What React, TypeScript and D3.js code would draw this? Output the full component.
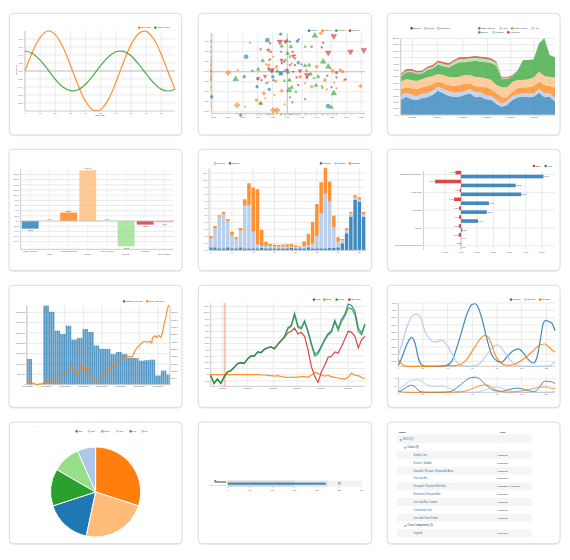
import React from 'react';
import * as d3 from 'd3';

const FONT = "'Liberation Sans', Arial, Helvetica, sans-serif";
const GRID = '#e6e6e6';
const AXIS = '#cccccc';
const TICKC = '#555';
const TF = 6.5;
const LW = 3.6;

// ---------- 1. Simple line ----------
const simpleX = [0, 5, 10, 15, 20, 25, 30, 35, 40, 45, 50, 55, 60, 65, 70, 75, 80, 85, 90, 95, 99];
const sineWave = [0, 0.48, 0.84, 1.0, 0.91, 0.6, 0.14, -0.35, -0.76, -0.98, -0.96, -0.71, -0.28, 0.22, 0.66, 0.94, 0.99, 0.8, 0.41, -0.08, -0.46];
const cosineWave = [0.5, 0.44, 0.27, 0.04, -0.21, -0.4, -0.49, -0.47, -0.33, -0.11, 0.14, 0.35, 0.48, 0.49, 0.38, 0.17, -0.07, -0.3, -0.46, -0.5, -0.45];
const simpleYTicks = [-0.8, -0.6, -0.4, -0.2, 0, 0.2, 0.4, 0.6, 0.8];
const simpleXTicks = [0, 10, 20, 30, 40, 50, 60, 70, 80, 90];

// ---------- 2. Scatter ----------
const scatterGroupNames = ['Group 0', 'Group 1', 'Group 2', 'Group 3'];
const scatterColors = ['#1f77b4', '#ff7f0e', '#2ca02c', '#d62728'];
const group0Pts: [number, number, number, string][] = [
  [-0.67, 1.58, 3, 'c'], [-0.22, 1.88, 2, 'c'], [-1.39, 0.75, 3, 'c'], [-1.18, 0.05, 1, 'c'], [-1.45, -0.25, 2, 'c'],
  [-1.02, -0.75, 2, 'c'], [-0.61, -0.88, 2, 'c'], [-0.49, -0.25, 2, 's'], [-0.21, 1.0, 1, 'c'], [-0.51, 0.03, 1, 'c'],
  [0.34, 1.53, 2, 'c'], [0.39, 1.62, 1, 'c'], [0.37, 0.45, 2, 'c'], [0.48, 0.37, 1, 'c'], [1.66, -0.05, 2, 'c'],
  [1.38, -1.72, 3, 'c'], [0.6, -1.37, 1, 'c'], [-1.57, -2.17, 2, 'c'], [-2.55, -1.25, 2, 'c'], [-0.1, 0.02, 1, 'c'],
  [0.17, -1.53, 1, 'c'], [0.09, -1.28, 1, 'c'], [-0.7, -0.57, 1, 'c'], [-1.01, -0.37, 1, 'c'], [-0.22, -0.08, 3, 's'],
  [-0.47, -0.42, 1, 'c'],
];
const group1Pts: [number, number, number, string][] = [
  [-1.26, 1.45, 1, 'c'], [-1.99, -0.05, 3, 'x'], [-1.67, 0.08, 1, 'c'], [-1.69, -1.67, 3, 'x'], [-1.42, -1.75, 1, 'c'],
  [-1.04, -1.42, 2, 'c'], [-0.91, -1.58, 2, 'x'], [-0.74, -1.33, 1, 'c'], [-0.79, -1.08, 2, 'x'], [-0.65, -0.53, 1, 'c'],
  [-0.39, -0.47, 2, 'c'], [-0.47, -1.92, 3, 'x'], [-0.34, -1.92, 3, 'x'], [-0.43, -1.17, 1, 'c'], [-0.19, -0.95, 2, 'x'],
  [-0.09, -1.63, 1, 'c'], [-0.61, 0.58, 1, 'c'], [-0.72, 0.37, 1, 'c'], [-0.63, 0.33, 2, 'c'], [-0.47, 0.75, 1, 'c'],
  [-0.36, 0.25, 2, 'c'], [0.15, 0.42, 1, 'c'], [0.26, 0.83, 1, 'c'], [0.43, -0.25, 2, 'x'], [0.6, -0.58, 1, 'c'],
  [0.65, 0.05, 2, 'c'], [0.99, 0.25, 2, 'x'], [1.27, -0.42, 2, 'x'], [1.33, -0.88, 1, 'c'], [1.16, -0.72, 1, 'c'],
  [1.53, 0.05, 2, 'x'], [1.78, 0.08, 2, 'c'], [1.92, -0.42, 1, 'c'], [2.47, -0.72, 2, 'x'], [1.13, 1.92, 2, 'x'],
  [0.09, -0.42, 1, 'c'], [1.58, -0.55, 1, 'c'], [1.66, -0.83, 1, 'c'], [1.44, 0.17, 1, 'c'], [1.87, 0.0, 2, 'c'],
  [0.82, -0.75, 2, 'c'],
];
const group2Pts: [number, number, number, string][] = [
  [0.93, 1.8, 3, 'u'], [-0.02, 1.55, 2, 'u'], [0.09, 1.5, 1, 'u'], [-0.19, 1.28, 2, 'u'], [-0.83, 0.55, 2, 'u'],
  [-0.98, 0.12, 2, 'u'], [-0.58, 0.62, 1, 'u'], [0.01, 0.92, 2, 'u'], [-0.06, 0.58, 1, 'u'], [0.09, 0.75, 1, 'u'],
  [-0.34, 0.03, 2, 'u'], [-0.22, -0.08, 1, 'u'], [0.03, -0.03, 2, 'u'], [0.07, -0.42, 2, 'u'], [-0.1, -0.45, 1, 'u'],
  [0.06, -0.92, 3, 'u'], [0.15, -0.78, 2, 'u'], [0.29, -1.0, 1, 'u'], [0.6, 0.3, 2, 'u'], [0.74, 0.33, 2, 'u'],
  [1.21, 0.5, 3, 'u'], [1.38, 0.25, 3, 'u'], [1.49, -0.78, 1, 'u'], [1.57, -1.08, 3, 'u'], [0.97, -0.68, 2, 'u'],
  [0.79, -0.12, 2, 'u'], [0.9, -0.33, 1, 'u'], [1.04, -0.25, 2, 'u'], [1.19, -0.8, 1, 'u'], [-1.74, -0.37, 3, 'u'],
  [-0.89, -1.58, 2, 'u'], [1.49, -1.78, 2, 'u'], [0.6, 1.25, 1, 'u'], [0.12, 1.25, 2, 'u'], [-0.62, 0.08, 1, 'u'],
];
const group3Pts: [number, number, number, string][] = [
  [-0.25, 1.5, 3, 'd'], [-0.06, 1.5, 2, 'd'], [-0.58, 1.42, 1, 's'], [-0.64, 1.08, 2, 'd'], [-0.55, 1.0, 1, 's'],
  [-0.9, 1.12, 1, 'd'], [-0.19, 0.58, 2, 'd'], [-0.11, 0.5, 1, 's'], [0.2, 0.78, 2, 'd'], [0.26, 0.67, 1, 'd'],
  [0.18, 1.0, 1, 's'], [1.57, 1.78, 3, 'd'], [1.38, 0.95, 3, 'd'], [2.13, 1.0, 3, 'd'], [2.58, 1.08, 3, 'd'],
  [0.82, 1.25, 1, 's'], [0.43, 0.05, 2, 'd'], [0.31, -0.28, 1, 's'], [0.67, -0.17, 3, 'd'], [0.65, -0.3, 1, 's'],
  [0.2, 0.0, 1, 'd'], [0.26, 0.33, 1, 's'], [-0.98, -0.33, 2, 'd'], [-0.87, -0.42, 1, 's'], [-0.52, 0.08, 3, 'd'],
  [-0.02, 0.08, 2, 'd'], [-0.19, 0.42, 1, 's'], [1.96, -0.38, 1, 's'], [1.66, -0.28, 1, 'd'], [1.35, -0.2, 1, 's'],
  [1.16, 1.22, 1, 's'], [-0.75, -0.23, 2, 'd'], [0.37, -0.67, 1, 's'], [-0.64, 0.17, 1, 's'], [0.09, 0.33, 1, 'd'],
  [1.21, 1.45, 1, 's'],
];
const scatterXTicks = [-2.5, -2, -1.5, -1, -0.5, 0, 0.5, 1, 1.5, 2, 2.5];
const scatterYTicks = [-2, -1.5, -1, -0.5, 0, 0.5, 1, 1.5];

// ---------- 3. Stacked area ----------
const areaKeys = ['North America', 'Africa', 'South America', 'Asia', 'Europe', 'Australia', 'Antarctica'];
const areaColors = ['#1f77b4', '#aec7e8', '#ff7f0e', '#ffbb78', '#2ca02c', '#98df8a', '#d62728'];
const northAmerica = [23.5, 28.7, 24.5, 23.5, 26.1, 27.6, 31.3, 38.1, 33.9, 29.7, 28.7, 28.7, 31.3, 33.9, 27.6, 28.7, 24.5, 23.5, 17.2, 13, 15.6, 23.5, 27.6, 28.7, 27.6, 28.7, 35, 27.6, 28.7, 20.9];
const africa = [7, 6, 8, 6, 7, 6, 7, 6, 7, 8, 6, 7, 6, 7, 8, 7, 6, 7, 6, 5, 6, 7, 5, 5, 6, 5, 6, 6, 5, 6];
const southAmerica = [9.7, 8.6, 9.2, 10.7, 10.2, 11.8, 10.2, 8.1, 8.7, 9.2, 10.7, 11.2, 11.2, 8.7, 9.8, 8.6, 12.8, 9.7, 10.7, 9.6, 6, 6, 9.1, 9.6, 9.7, 11.7, 11.2, 13.3, 11.7, 16.4];
const asia = [12, 12.5, 13.1, 13, 12.5, 13.5, 12.5, 12, 13, 13.1, 13.5, 13.1, 14.1, 13, 14.6, 14.6, 14.1, 14.6, 13, 15.7, 15.7, 15.7, 13.1, 11.5, 12.5, 13.5, 15.6, 14.1, 14.6, 15.6];
const europe = [7.5, 11.2, 12.7, 11.2, 9.1, 11.2, 11.7, 14.3, 13.8, 14.4, 19.7, 22.7, 20.1, 21.2, 24.8, 24.9, 25.3, 26.4, 30.1, 13.1, 13.1, 7.9, 15.1, 31.3, 30.3, 28.2, 44.4, 59, 33.9, 31.3];
const australia = [2, 2, 2, 2, 2, 3, 3, 4, 4, 4, 5, 5, 5, 5, 5, 5, 5, 5, 4, 1, 1, 1, 0.5, 0, 0, 0, 0, 0, 0, 0];
const antarctica = [2.5, 2.5, 2.5, 2.5, 2.5, 2.5, 2.5, 2.5, 2.5, 2.5, 2.5, 2.5, 2.5, 2.5, 2.5, 2.5, 2.5, 2.5, 2.5, 1.5, 1.5, 1.5, 0, 0, 0, 0, 0, 0, 0, 0];
const areaTickIdx = [2.2, 6.9, 11.7, 16.3, 20.7, 25.1];
const areaTickLabels = ['09/2002', '02/2004', '07/2005', '12/2006', '05/2008', '10/2009'];
const areaYTicks = [0, 10, 20, 30, 40, 50, 60, 70, 80, 90, 100, 110, 120];

// ---------- 4. Discrete bar ----------
const discreteCats = ['CDS / Options', 'Cash', 'Corporate Bonds', 'Equity', 'Index Futures', 'Options', 'Preferred', 'Not Available'];
const discreteVals = [-29.77, 0, 32.81, 196.45, 0.19, -98.08, -13.93, -5.14];
const discreteColors = ['#1f77b4', '#aec7e8', '#ff7f0e', '#ffbb78', '#2ca02c', '#98df8a', '#d62728', '#ff9896'];
const discreteYTicks = [-80, -60, -40, -20, 0, 20, 40, 60, 80, 100, 120, 140, 160, 180];

// ---------- 5. Multi bar stacked ----------
const streamNames = ['Stream0', 'Stream1', 'Stream2'];
const streamColors = ['#1f77b4', '#aec7e8', '#ff7f0e'];
const stream0 = [0.43, 0.43, 0.29, 0.29, 0.43, 0.29, 0.29, 0.43, 0.29, 0.29, 0.29, 0.29, 0.38, 0.29, 0.29, 0.29, 0.29, 0.29, 0.29, 0.38, 0.29, 0.29, 0.29, 0.43, 0.29, 0.29, 0.29, 0.29, 0.38, 0.38, 0.43, 1.0, 2.43, 4.81, 7.19, 6.95, 4.81];
const stream1 = [1.29, 2.71, 4.52, 4.9, 3.76, 1.9, 1.33, 2.38, 6.1, 6.14, 2.38, 0.57, 0.24, 0.33, 0.33, 0.24, 0.24, 0.24, 0.24, 0.14, 0.24, 0.24, 0.33, 0.33, 0.71, 1.76, 4.95, 7.81, 6.57, 2.9, 0.81, 0.48, 0.48, 0.48, 0.38, 0.33, 0.38];
const stream2 = [0.33, 0.33, 0.19, 0.29, 0.29, 0.48, 0.24, 0.38, 0.9, 3.14, 6.29, 7.86, 2.29, 0.62, 0.29, 0.29, 0.24, 0.29, 0.33, 0.38, 0.19, 0.1, 0.67, 1.57, 3.05, 4.57, 4.48, 3.67, 2.86, 1.67, 0.62, 0.14, 0.24, 0.19, 0.29, 0.29, 0.29];
const multiYTicks = [0, 1, 2, 3, 4, 5, 6, 7, 8, 9, 10, 11];
const multiXTicks = [0, 5, 10, 15, 20, 25, 30, 35];

// ---------- 6. Horizontal grouped bar ----------
const hbarCats = ['Information Technology', 'Consumer Discretionary', 'Health Care', 'Consumer Staples', 'Financials', 'Industrials', 'Energy', 'Materials', 'Telecommunication Services'];
const hbarShort = [-3.45, -16.14, -0.81, -4.32, -1.23, -1.18, -1.39, -1.43, -0.21];
const hbarLong = [50.97, 33.82, 37.31, 17.26, 15.93, 10.54, 0.82, 0, 0];
const hbarXTicks = [-10, 0, 10, 20, 30, 40, 50];

// ---------- 7. Line plus bar ----------
const quantity = [
  1240000, 1240000, 1240000, 0, 0, 0, 0, 0, 0,
  3820000, 3820000, 3820000, 3520000, 3520000, 3520000, 2610000, 2610000, 2610000,
  2450000, 2450000, 2450000, 2850000, 2850000, 2850000, 2180000, 2180000, 2180000,
  2260000, 2260000, 2260000, 2690000, 2690000, 2690000, 2550000, 2550000, 2550000,
  1890000, 1890000, 1890000, 1730000, 1730000, 1730000, 1730000, 1730000, 1730000,
  1480000, 1480000, 1480000, 1580000, 1580000, 1580000, 1480000, 1480000, 1480000,
  1290000, 1290000, 1290000, 1290000, 1290000, 1290000, 1160000, 1160000, 1160000,
  1180000, 1180000, 1180000, 1210000, 1210000, 1210000, 440000, 440000, 440000,
  680000, 680000, 680000, 480000, 480000,
];
const pricePts: [number, number][] = [
  [0, 27], [0.9, 25], [2.2, 14], [3.1, 23], [4.2, 14], [5.2, 9], [6.3, 14], [7.6, 16], [8.8, 20], [10.3, 25],
  [11.7, 32], [12.9, 41], [14.2, 36], [15.6, 43], [17.1, 48], [18.5, 64], [20.1, 77], [21.5, 93], [22.8, 111], [23.7, 141],
  [24.6, 118], [25.7, 105], [26.7, 77], [27.8, 100], [28.5, 134], [29.6, 141], [30.5, 118], [31.4, 105], [32.1, 123], [33, 100],
  [33.9, 66], [35.3, 43], [36.8, 39], [38.2, 43], [39.5, 59], [40.7, 82], [42.2, 95], [43.4, 116], [45.2, 127], [47, 150],
  [48.2, 157], [49.3, 173], [50.6, 184], [51.8, 200], [53.3, 202], [55.1, 200], [56.3, 198], [57.7, 241], [59, 264], [60.4, 282],
  [61.9, 300], [63.1, 305], [64.6, 298], [65.8, 305], [66.7, 293], [67.2, 332], [68.5, 343], [69.4, 332], [70.5, 345], [71.5, 332],
  [72.4, 361], [73.3, 418], [74.2, 468], [75.1, 525], [75.7, 548], [76, 543],
];
const lpbLeftTicks = [0, 500000, 1000000, 1500000, 2000000, 2500000, 3000000, 3500000];
const lpbRightTicks = [50, 100, 150, 200, 250, 300, 350, 400, 450, 500];
const lpbXTickIdx = [0, 10, 20, 30, 40, 50, 60, 70];
const lpbXTickLabels = ['01/01/2000', '11/01/2000', '09/01/2001', '07/01/2002', '05/01/2003', '03/01/2004', '01/01/2005', '11/01/2005'];

// ---------- 8. Cumulative line ----------
const cumNames = ['Long', 'Short', 'Gross', 'S&P 1500'];
const cumColors = ['#1f77b4', '#ff7f0e', '#2ca02c', '#d62728'];
const cumLong = [-0.8, -13.7, -6.7, -13.7, -3.5, 4.6, 6.8, 12.1, 18, 19.7, 18.6, 25.6, 30.4, 30.4, 36.9, 35.8, 41.2, 43.8, 44.9, 42.2, 49.2, 55.1, 61.6,
  75.3, 79.6, 99.5, 79, 75.3, 87.1, 71, 51.1, 33.3, 36.6, 46.8, 57.5, 66.1, 71, 87.6, 74.2, 89.2, 97.8, 114, 111.8, 102.2, 75.3, 67.2, 81.7];
const cumShort = [0, 0, 0, 0, 0, 0, 0, 0, 0, 0, 0, 0, 0, 0, 0, -0.5, -0.5, -1.1, -1.6, -2.2, -1.6, -3.2, -3.8, -4.8, -3.8, -4.3, -3.8, -3.2, -3.2, -4.3,
  -1.1, 3.8, 2.2, -0.5, -2.2, -1.1, -3.2, -4.3, -5.4, -6.5, -7, -4.3, 2.7, -1.1, -1.6, -4.3, -6.5];
const cumGross = [-1.1, -14, -7, -14, -3.8, 4.3, 6.5, 11.8, 17.7, 19.4, 18.3, 25.3, 30.1, 30.1, 36.6, 35.5, 40.9, 43.5, 44.6, 41.9, 48.9, 54.8, 61.3,
  74.2, 77.4, 95.7, 76.3, 73.7, 84.9, 68.8, 48.4, 30.1, 33.3, 44.6, 55.4, 64, 68.3, 84.9, 71, 86, 94.1, 107.5, 106.5, 96.8, 69.9, 64.5, 80.6];
const cumSP = [-1.4, -14.3, -7.3, -14.3, -4.1, 4, 6.2, 11.5, 17.4, 19.1, 18, 25, 29.8, 29.8, 36.3, 35.2, 40.6, 43.2, 44.3, 41.6, 48.6, 54.5, 60,
  67.2, 69.9, 75.3, 65.6, 68.3, 61.8, 40.3, 13.4, -2.7, -12.4, 4.3, 15.1, 28, 29.6, 36.6, 34.9, 45.7, 57.5, 69.9, 68.3, 61.8, 43, 56.5, 61.8];
const cumYTicks = [-10, 0, 10, 20, 30, 40, 50, 60, 70, 80, 90, 100, 110];
const cumXTickIdx = [3.5, 10.9, 18.7, 25.8, 32.8, 41];
const cumXTickLabels = ['01/2004', '01/2005', '01/2006', '01/2007', '01/2008', '01/2009'];
const cumIndex = 4.2;

// ---------- 9. Line with focus ----------
const focusNames = ['Stream0', 'Stream1', 'Stream2'];
const focusColors = ['#1f77b4', '#aec7e8', '#ff7f0e'];
const focusStream0: [number, number][] = [[0, 0.23], [2.7, 0.73], [6.8, 1.64], [10.8, 2.15], [13.5, 1.76], [16.2, 0.73], [18.9, 0.27], [23, 0.16], [31.1, 0.16], [39.2, 0.23], [43.2, 0.5], [47.3, 1.42], [51.4, 2.56], [55.4, 3.7], [59.5, 4.38], [62.2, 4.45], [64.9, 4.16], [67.6, 3.47], [71.6, 2.1], [75.7, 0.96], [79.7, 0.55], [83.8, 0.43], [87.8, 0.78], [93.2, 1.23], [97.3, 1.35], [101.4, 1.07], [105.4, 0.62], [109.5, 0.39], [112.2, 0.73], [114.9, 1.87], [117.6, 3.13], [119.5, 3.31], [121.6, 3.24], [124.3, 3.13], [127, 2.6]];
const focusStream1: [number, number][] = [[0, 0.91], [2.7, 1.64], [6.8, 2.79], [10.8, 3.58], [14.9, 3.74], [17.6, 3.58], [21.6, 2.56], [25.7, 1.99], [29.7, 1.83], [35.1, 1.94], [39.2, 1.64], [43.2, 1.07], [47.3, 0.46], [51.4, 0.23], [58.1, 0.16], [63.5, 0.23], [67.6, 0.5], [71.6, 0.96], [75.7, 1.37], [79.7, 1.64], [82.4, 1.53], [86.5, 1.07], [90.5, 0.62], [94.6, 0.27], [101.4, 0.16], [112.2, 0.16], [120.3, 0.16], [124.3, 0.27], [127, 0.5]];
const focusStream2: [number, number][] = [[0, 0.62], [2.7, 0.32], [6.8, 0.16], [17.6, 0.16], [33.8, 0.18], [47.3, 0.23], [54.1, 0.5], [58.1, 0.96], [62.2, 1.53], [66.2, 2.03], [70.3, 2.28], [73, 2.15], [75.7, 1.64], [78.4, 0.96], [82.4, 0.46], [87.8, 0.23], [93.2, 0.27], [98.6, 0.5], [104.1, 0.84], [109.5, 1.23], [114.9, 1.64], [118.9, 1.69], [121.6, 1.53], [124.3, 1.3], [127, 1.14]];
const focusYTicks = [0.5, 1, 1.5, 2, 2.5, 3, 3.5, 4, 4.5];
const focusXTicks = [0, 20, 40, 60, 80, 100, 120];
const focusCtxYTicks = [2, 4];

// ---------- 10. Pie ----------
const pieLabels = ['One', 'Two', 'Three', 'Four', 'Five', 'Six'];
const pieValues = [5, 2, 9, 7, 4, 3];
const pieColors = ['#1f77b4', '#aec7e8', '#ff7f0e', '#ffbb78', '#2ca02c', '#98df8a'];

// ---------- 11. Bullet ----------
const bulletRanges = [150, 225, 300];
const bulletMeasures = [220];
const bulletMarkers = [250];
const bulletTicks = [0, 50, 100, 150, 200, 250, 300];

// ---------- 12. Tree table ----------
const treeNames = ['NVD3 (2)', 'Charts (9)', 'Simple Line', 'Scatter / Bubble', 'Stacked / Stream / Expanded Area', 'Discrete Bar', 'Grouped / Stacked Multi-Bar', 'Horizontal Grouped Bar', 'Line and Bar Combo', 'Cumulative Line', 'Line with View Finder', 'Chart Components (1)', 'Legend'];
const treeTypes = ['-', '-', 'Historical', 'Snapshot', 'Historical', 'Snapshot', 'Snapshot / Historical', 'Snapshot', 'Historical', 'Historical', 'Historical', '-', 'Universal'];
const treeDepth = [0, 1, 2, 2, 2, 2, 2, 2, 2, 2, 2, 1, 2];

// ================= helpers =================
type Card = [number, number, number, number];
function Panel({ ox, oy, card, children }: { ox: number; oy: number; card: Card; children?: React.ReactNode }) {
  const [x0, y0, x1, y1] = card;
  return (
    <g transform={`translate(${ox},${oy}) scale(${1 / 3})`}>
      <rect x={x0 - 1} y={y0 + 2} width={x1 - x0 + 2} height={y1 - y0 + 2} rx={13} fill="#eeeeee" />
      <rect x={x0} y={y0} width={x1 - x0} height={y1 - y0} rx={12} fill="#fff" stroke="#dcdcdc" strokeWidth={3} />
      {children}
    </g>
  );
}

function LegendItem({ x, y, color, label, hollow }: { x: number; y: number; color: string; label: string; hollow?: boolean }) {
  return (
    <g>
      <circle cx={x} cy={y} r={3.3} fill={hollow ? '#fff' : color} stroke={hollow ? '#666' : color} strokeWidth={1.3} />
      <text x={x + 5.5} y={y + 2.3} fontSize={6.3} fill="#333">{label}</text>
    </g>
  );
}

function HGrid({ vals, y, x0, x1 }: { vals: number[]; y: (v: number) => number; x0: number; x1: number }) {
  return <g>{vals.map((v, i) => <line key={i} x1={x0} x2={x1} y1={y(v)} y2={y(v)} stroke={GRID} strokeWidth={2.5} />)}</g>;
}
function VGrid({ vals, x, y0, y1 }: { vals: number[]; x: (v: number) => number; y0: number; y1: number }) {
  return <g>{vals.map((v, i) => <line key={i} x1={x(v)} x2={x(v)} y1={y0} y2={y1} stroke={GRID} strokeWidth={2.5} />)}</g>;
}
function YLabels({ vals, y, x, fmt, anchor }: { vals: number[]; y: (v: number) => number; x: number; fmt: (v: number) => string; anchor?: string }) {
  return <g>{vals.map((v, i) => <text key={i} x={x} y={y(v) + 2.2} fontSize={TF} textAnchor={anchor || 'end'} fill={TICKC}>{fmt(v)}</text>)}</g>;
}
function XLabels({ vals, x, y, fmt }: { vals: number[]; x: (v: number) => number; y: number; fmt: (v: number, i: number) => string }) {
  return <g>{vals.map((v, i) => <text key={i} x={x(v)} y={y} fontSize={TF} textAnchor="middle" fill={TICKC}>{fmt(v, i)}</text>)}</g>;
}

// ================= charts =================
function SimpleLineChart() {
  const x = d3.scaleLinear().domain([0, 99]).range([75, 525]);
  const y = d3.scaleLinear().domain([-1, 1]).range([333, 93]);
  const line = d3.line<number>().x((_, i) => x(simpleX[i])).y(d => y(d)).curve(d3.curveCatmullRom);
  const f = d3.format('.2f');
  return (
    <Panel ox={0} oy={0} card={[28, 40, 545, 405]}>
      <HGrid vals={simpleYTicks} y={y} x0={75} x1={525} />
      <VGrid vals={simpleXTicks} x={x} y0={93} y1={333} />
      <line x1={75} x2={525} y1={y(0)} y2={y(0)} stroke="#c4c4c4" strokeWidth={3} />
      <line x1={75} x2={525} y1={333} y2={333} stroke={AXIS} strokeWidth={3} />
      <line x1={75} x2={75} y1={93} y2={333} stroke={AXIS} strokeWidth={3} />
      <YLabels vals={simpleYTicks} y={y} x={68} fmt={f} />
      <XLabels vals={simpleXTicks} x={x} y={341} fmt={v => String(v)} />
      <text transform="translate(52,210) rotate(-90)" fontSize={6.5} textAnchor="middle" fill="#333">Voltage (v)</text>
      <text x={300} y={349} fontSize={6.5} textAnchor="middle" fill="#333">Time (ms)</text>
      <path d={line(sineWave) || ''} fill="none" stroke="#ff7f0e" strokeOpacity={0.85} strokeWidth={LW} />
      <path d={line(cosineWave) || ''} fill="none" stroke="#2ca02c" strokeOpacity={0.85} strokeWidth={LW} />
      <LegendItem x={418} y={83} color="#ff7f0e" label="Sine Wave" />
      <LegendItem x={466} y={83} color="#2ca02c" label="Cosine Wave" />
    </Panel>
  );
}

const sizeArea = [0, 22, 55, 125];
function symPath(shape: string, size: number) {
  const t = shape === 'x' ? d3.symbolCross : shape === 's' ? d3.symbolSquare : shape === 'm' ? d3.symbolDiamond
    : (shape === 'u' || shape === 'd') ? d3.symbolTriangle : d3.symbolCircle;
  return d3.symbol().type(t).size(size)() || '';
}

function ScatterChart() {
  const x = d3.scaleLinear().domain([-2.55, 2.62]).range([65, 525]);
  const y = d3.scaleLinear().domain([-2.08, 1.92]).range([340, 100]);
  const groups = [group0Pts, group1Pts, group2Pts, group3Pts];
  const f = d3.format('.2f');
  return (
    <Panel ox={190} oy={0} card={[25, 40, 545, 405]}>
      <HGrid vals={scatterYTicks} y={y} x0={65} x1={525} />
      <VGrid vals={scatterXTicks} x={x} y0={100} y1={340} />
      <line x1={65} x2={525} y1={y(0)} y2={y(0)} stroke="#c4c4c4" strokeWidth={3} />
      <line x1={x(0)} x2={x(0)} y1={100} y2={340} stroke="#c4c4c4" strokeWidth={3} />
      <line x1={65} x2={525} y1={340} y2={340} stroke={AXIS} strokeWidth={3} />
      <line x1={65} x2={65} y1={100} y2={340} stroke={AXIS} strokeWidth={3} />
      <YLabels vals={scatterYTicks} y={y} x={56} fmt={f} />
      <XLabels vals={scatterXTicks} x={x} y={355} fmt={v => f(v)} />
      {groups.map((g, gi) => g.map((p, i) => (
        <g key={`r${gi}-${i}`}>
          <line x1={60} x2={65} y1={y(p[1])} y2={y(p[1])} stroke={scatterColors[gi]} strokeOpacity={0.4} strokeWidth={1.2} />
          <line x1={x(p[0])} x2={x(p[0])} y1={341} y2={346} stroke={scatterColors[gi]} strokeOpacity={0.4} strokeWidth={1.2} />
        </g>
      )))}
      {groups.map((g, gi) => g.map((p, i) => (
        <path key={`p${gi}-${i}`} d={symPath(p[3], sizeArea[p[2]])}
          transform={`translate(${x(p[0])},${y(p[1])})${p[3] === 'd' ? ' rotate(180)' : ''}`}
          fill={scatterColors[gi]} fillOpacity={0.6} stroke={scatterColors[gi]} strokeOpacity={0.8} strokeWidth={1} />
      )))}
      {scatterGroupNames.map((n, i) => <LegendItem key={n} x={357 + i * 41} y={92} color={scatterColors[i]} label={n} />)}
    </Panel>
  );
}

function StackedAreaChart() {
  const table = northAmerica.map((v, i) => ({
    i, 'North America': v, 'Africa': africa[i], 'South America': southAmerica[i], 'Asia': asia[i],
    'Europe': europe[i], 'Australia': australia[i], 'Antarctica': antarctica[i],
  }));
  const series = d3.stack<any>().keys(areaKeys)(table);
  const x = d3.scaleLinear().domain([0, northAmerica.length - 1]).range([62, 525]);
  const y = d3.scaleLinear().domain([0, 120]).range([345, 115]);
  const area = d3.area<any>().x(d => x(d.data.i)).y0(d => y(d[0])).y1(d => y(d[1]));
  const f = d3.format('.2f');
  return (
    <Panel ox={380} oy={0} card={[22, 40, 540, 405]}>
      <HGrid vals={areaYTicks} y={y} x0={62} x1={525} />
      <VGrid vals={areaTickIdx} x={x} y0={115} y1={345} />
      {series.map((s, i) => <path key={i} d={area(s) || ''} fill={areaColors[i]} fillOpacity={0.72} />)}
      <line x1={62} x2={525} y1={345} y2={345} stroke={AXIS} strokeWidth={3} />
      <line x1={62} x2={62} y1={115} y2={345} stroke={AXIS} strokeWidth={3} />
      <YLabels vals={areaYTicks} y={y} x={57} fmt={f} />
      <XLabels vals={areaTickIdx} x={x} y={354} fmt={(_, i) => areaTickLabels[i]} />
      <LegendItem x={95} y={85} color="#444" label="Stacked" />
      <LegendItem x={137} y={85} color="#444" label="Stream" hollow />
      <LegendItem x={175} y={85} color="#444" label="Expanded" hollow />
      {[0, 1, 2, 3].map(i => <LegendItem key={i} x={[298, 362, 396, 458][i]} y={85} color={areaColors[i]} label={areaKeys[i]} />)}
      {[4, 5, 6].map(i => <LegendItem key={i} x={[298, 341, 385][i - 4]} y={97} color={areaColors[i]} label={areaKeys[i]} />)}
    </Panel>
  );
}

function DiscreteBarChart() {
  const x = d3.scaleBand<string>().domain(discreteCats).range([62, 522]).paddingInner(0.12).paddingOuter(0.06);
  const y = d3.scaleLinear().domain([-109.7, 200]).range([328, 88]);
  const f = d3.format(',.2f');
  return (
    <Panel ox={0} oy={140} card={[27, 28, 546, 392]}>
      <HGrid vals={discreteYTicks} y={y} x0={62} x1={522} />
      {discreteCats.map((c, i) => (
        <line key={i} x1={x(c)! + x.bandwidth() / 2} x2={x(c)! + x.bandwidth() / 2} y1={88} y2={328} stroke={GRID} strokeWidth={2.5} strokeDasharray="6 3" />
      ))}
      <line x1={62} x2={62} y1={88} y2={328} stroke={AXIS} strokeWidth={3} />
      <line x1={62} x2={522} y1={328} y2={328} stroke={AXIS} strokeWidth={3} />
      {discreteVals.map((v, i) => (
        <rect key={i} x={x(discreteCats[i])} width={x.bandwidth()} y={y(Math.max(0, v))} height={Math.abs(y(v) - y(0))}
          fill={discreteColors[i]} fillOpacity={0.78} />
      ))}
      <line x1={62} x2={522} y1={y(0)} y2={y(0)} stroke="#c4c4c4" strokeWidth={2.5} />
      {discreteVals.map((v, i) => (
        <text key={i} x={x(discreteCats[i])! + x.bandwidth() / 2} y={v >= 0 ? y(v) - 3 : y(v) + 7.5} fontSize={6} textAnchor="middle" fill="#333">{f(v)}</text>
      ))}
      <YLabels vals={discreteYTicks} y={y} x={57} fmt={d3.format('.1f')} />
      {discreteCats.map((c, i) => (
        <text key={c} x={x(c)! + x.bandwidth() / 2} y={i % 2 === 0 ? 335 : 346} fontSize={TF} textAnchor="middle" fill={TICKC}>{c}</text>
      ))}
    </Panel>
  );
}

function MultiBarChart() {
  const idx = stream0.map((_, i) => i);
  const table = idx.map(i => ({ i, Stream0: stream0[i], Stream1: stream1[i], Stream2: stream2[i] }));
  const series = d3.stack<any>().keys(streamNames)(table);
  const x = d3.scaleBand<number>().domain(idx).range([57, 526]).paddingInner(0.18);
  const y = d3.scaleLinear().domain([0, 11.7]).range([331, 85]);
  const xc = (i: number) => x(i)! + x.bandwidth() / 2;
  return (
    <Panel ox={190} oy={140} card={[25, 28, 545, 392]}>
      <HGrid vals={multiYTicks} y={y} x0={57} x1={526} />
      <VGrid vals={multiXTicks} x={xc} y0={85} y1={331} />
      {series.map((s, si) => s.map((d: any, i: number) => (
        <rect key={`${si}-${i}`} x={x(i)} width={x.bandwidth()} y={y(d[1])} height={Math.max(0, y(d[0]) - y(d[1]))}
          fill={streamColors[si]} fillOpacity={0.85} />
      )))}
      <line x1={57} x2={526} y1={331} y2={331} stroke={AXIS} strokeWidth={3} />
      <line x1={57} x2={57} y1={85} y2={331} stroke={AXIS} strokeWidth={3} />
      <YLabels vals={multiYTicks} y={y} x={52} fmt={d3.format('.1f')} />
      <XLabels vals={multiXTicks} x={xc} y={340} fmt={v => String(v)} />
      <LegendItem x={75} y={70} color="#444" label="Grouped" hollow />
      <LegendItem x={120} y={70} color="#2c6e2c" label="Stacked" />
      {streamNames.map((n, i) => <LegendItem key={n} x={[393, 437, 480][i]} y={70} color={streamColors[i]} label={n} />)}
    </Panel>
  );
}

function HorizontalBarChart() {
  const yb = d3.scaleBand<string>().domain(hbarCats).range([92, 329]).paddingInner(0.12);
  const ys = d3.scaleBand<string>().domain(['Short', 'Long']).range([0, yb.bandwidth()]);
  const x = d3.scaleLinear().domain([-23.3, 58.1]).range([130, 525]);
  const f = d3.format(',.2f');
  const bars = [hbarShort, hbarLong];
  const cols = ['#d62728', '#1f77b4'];
  return (
    <Panel ox={380} oy={140} card={[22, 28, 540, 392]}>
      <VGrid vals={hbarXTicks} x={x} y0={92} y1={329} />
      {hbarCats.map((c, i) => i % 2 === 0 ? (
        <line key={c} x1={130} x2={525} y1={yb(c)! + yb.bandwidth() / 2} y2={yb(c)! + yb.bandwidth() / 2} stroke={GRID} strokeWidth={2.5} />
      ) : null)}
      <line x1={x(0)} x2={x(0)} y1={92} y2={329} stroke="#c4c4c4" strokeWidth={2.5} />
      <line x1={130} x2={130} y1={92} y2={329} stroke={AXIS} strokeWidth={3} />
      {bars.map((arr, si) => arr.map((v, i) => {
        const yy = yb(hbarCats[i])! + ys(si === 0 ? 'Short' : 'Long')!;
        const x0 = x(Math.min(0, v));
        const w = Math.abs(x(v) - x(0));
        return (
          <g key={`${si}-${i}`}>
            <rect x={x0} y={yy + 0.5} width={w} height={ys.bandwidth() - 1} fill={cols[si]} fillOpacity={0.85} />
            <text x={v < 0 ? x(v) - 2 : x(v) + 2} y={yy + ys.bandwidth() / 2 + 2} fontSize={5.5} textAnchor={v < 0 ? 'end' : 'start'} fill="#333">{f(v)}</text>
          </g>
        );
      }))}
      {hbarCats.map((c, i) => i % 2 === 0 ? (
        <text key={c} x={126} y={yb(c)! + yb.bandwidth() / 2 + 2} fontSize={TF} textAnchor="end" fill={TICKC}>{c}</text>
      ) : null)}
      <XLabels vals={hbarXTicks} x={x} y={338} fmt={v => f(v)} />
      <LegendItem x={462} y={78} color="#d62728" label="Short" />
      <LegendItem x={497} y={78} color="#1f77b4" label="Long" />
    </Panel>
  );
}

function LinePlusBarChart() {
  const idx = quantity.map((_, i) => i);
  const xb = d3.scaleBand<number>().domain(idx).range([80, 510]).paddingInner(0.12);
  const xl = d3.scaleLinear().domain([-0.5, quantity.length - 0.5]).range([80, 510]);
  const yl = d3.scaleLinear().domain([0, 3820000]).range([320, 83]);
  const yr = d3.scaleLinear().domain([9, 548]).range([320, 83]);
  const line = d3.line<[number, number]>().x(d => xl(d[0])).y(d => yr(d[1]));
  return (
    <Panel ox={0} oy={278} card={[27, 22, 546, 388]}>
      <HGrid vals={lpbLeftTicks} y={yl} x0={80} x1={510} />
      <VGrid vals={lpbXTickIdx} x={xl} y0={83} y1={320} />
      {quantity.map((q, i) => (
        <rect key={i} x={xb(i)} width={xb.bandwidth()} y={yl(q)} height={320 - yl(q)} fill="#1f77b4" fillOpacity={0.75} />
      ))}
      <line x1={80} x2={510} y1={320} y2={320} stroke={AXIS} strokeWidth={3} />
      <line x1={80} x2={80} y1={83} y2={320} stroke={AXIS} strokeWidth={3} />
      <line x1={510} x2={510} y1={83} y2={320} stroke={AXIS} strokeWidth={3} />
      <path d={line(pricePts) || ''} fill="none" stroke="#ff7f0e" strokeOpacity={0.85} strokeWidth={LW} />
      <YLabels vals={lpbLeftTicks} y={yl} x={76} fmt={d3.format(',')} />
      <YLabels vals={lpbRightTicks} y={yr} x={514} fmt={v => '$' + d3.format(',.1f')(v)} anchor="start" />
      <XLabels vals={lpbXTickIdx} x={xl} y={328} fmt={(_, i) => lpbXTickLabels[i]} />
      <LegendItem x={372} y={70} color="#1f77b4" label="Quantity (left axis)" />
      <LegendItem x={442} y={70} color="#ff7f0e" label="Price (right axis)" />
    </Panel>
  );
}

function CumulativeLineChart() {
  const x = d3.scaleLinear().domain([0, cumGross.length - 1]).range([62, 525]);
  const y = d3.scaleLinear().domain([-18.8, 115.6]).range([325, 75]);
  const line = d3.line<number>().x((_, i) => x(i)).y(d => y(d));
  const all = [cumLong, cumShort, cumGross, cumSP];
  return (
    <Panel ox={190} oy={278} card={[25, 22, 545, 388]}>
      <HGrid vals={cumYTicks} y={y} x0={62} x1={525} />
      <VGrid vals={cumXTickIdx} x={x} y0={75} y1={325} />
      <line x1={62} x2={525} y1={325} y2={325} stroke={AXIS} strokeWidth={3} />
      <line x1={62} x2={62} y1={75} y2={325} stroke={AXIS} strokeWidth={3} />
      <rect x={x(cumIndex) - 3} y={75} width={6} height={250} fill="#f08a6c" fillOpacity={0.5} />
      {[1, 3, 0, 2].map(si => <path key={si} d={line(all[si]) || ''} fill="none" stroke={cumColors[si]} strokeOpacity={0.85} strokeWidth={LW} />)}
      <YLabels vals={cumYTicks} y={y} x={58} fmt={v => d3.format('.0f')(v) + '%'} />
      <XLabels vals={cumXTickIdx} x={x} y={333} fmt={(_, i) => cumXTickLabels[i]} />
      {cumNames.map((n, i) => <LegendItem key={n} x={[372, 403, 440, 478][i]} y={65} color={cumColors[i]} label={n} />)}
    </Panel>
  );
}

function LineFocusChart() {
  const x = d3.scaleLinear().domain([0, 127]).range([55, 525]);
  const y = d3.scaleLinear().domain([0.16, 4.5]).range([265, 75]);
  const y2 = d3.scaleLinear().domain([0.16, 4.5]).range([343, 297]);
  const streams = [focusStream0, focusStream1, focusStream2];
  const main = d3.line<[number, number]>().x(d => x(d[0])).y(d => y(d[1])).curve(d3.curveMonotoneX);
  const ctx = d3.line<[number, number]>().x(d => x(d[0])).y(d => y2(d[1])).curve(d3.curveMonotoneX);
  const f = d3.format('.3f');
  return (
    <Panel ox={380} oy={278} card={[22, 22, 540, 388]}>
      <HGrid vals={focusYTicks} y={y} x0={55} x1={525} />
      <VGrid vals={focusXTicks} x={x} y0={75} y1={265} />
      <line x1={55} x2={525} y1={265} y2={265} stroke={AXIS} strokeWidth={3} />
      <line x1={55} x2={55} y1={75} y2={265} stroke={AXIS} strokeWidth={3} />
      {streams.map((s, i) => <path key={i} d={main(s) || ''} fill="none" stroke={focusColors[i]} strokeOpacity={0.85} strokeWidth={LW} />)}
      <YLabels vals={focusYTicks} y={y} x={50} fmt={f} />
      <XLabels vals={focusXTicks} x={x} y={273} fmt={v => String(v)} />
      <HGrid vals={focusCtxYTicks} y={y2} x0={55} x1={525} />
      <VGrid vals={focusXTicks} x={x} y0={297} y1={343} />
      <line x1={55} x2={525} y1={343} y2={343} stroke={AXIS} strokeWidth={3} />
      <line x1={55} x2={55} y1={297} y2={343} stroke={AXIS} strokeWidth={3} />
      {streams.map((s, i) => <path key={i} d={ctx(s) || ''} fill="none" stroke={focusColors[i]} strokeOpacity={0.85} strokeWidth={3} />)}
      <YLabels vals={focusCtxYTicks} y={y2} x={50} fmt={d3.format('.1f')} />
      <XLabels vals={focusXTicks} x={x} y={351} fmt={v => String(v)} />
      {focusNames.map((n, i) => <LegendItem key={n} x={[393, 437, 480][i]} y={65} color={focusColors[i]} label={n} />)}
    </Panel>
  );
}

function PieChart() {
  const arcs = d3.pie<number>()(pieValues);
  const arc = d3.arc<any>().innerRadius(0).outerRadius(135);
  return (
    <Panel ox={0} oy={412} card={[28, 30, 546, 395]}>
      <text x={100} y={45} fontSize={5} fill="#bbb">A  A  AAAA</text>
      <g transform="translate(287,240)">
        {arcs.map((a, i) => <path key={i} d={arc(a) || ''} fill={pieColors[i]} stroke="#fff" strokeWidth={3} />)}
      </g>
      {pieLabels.map((n, i) => <LegendItem key={n} x={[230, 268, 307, 352, 392, 428][i]} y={58} color={pieColors[i]} label={n} />)}
    </Panel>
  );
}

function BulletChart() {
  const x = d3.scaleLinear().domain([0, 300]).range([113, 515]);
  const rangeCols = ['#d6d6d6', '#e6e6e6', '#f2f2f2'];
  const sorted = [...bulletRanges].sort((a, b) => b - a);
  return (
    <Panel ox={190} oy={412} card={[25, 30, 545, 395]}>
      {sorted.map((r, i) => <rect key={r} x={x(0)} y={206} width={x(r) - x(0)} height={18} fill={rangeCols[2 - i]} />)}
      {bulletMeasures.map(m => <rect key={m} x={x(0)} y={212} width={x(m) - x(0)} height={6} fill="#1f77b4" fillOpacity={0.85} />)}
      {bulletMarkers.map(m => (
        <path key={m} d={d3.symbol().type(d3.symbolTriangle).size(30)() || ''} transform={`translate(${x(m)},214) rotate(180)`} fill="#fff" stroke="#333" strokeWidth={1.2} />
      ))}
      {bulletTicks.map(t => (
        <g key={t}>
          <line x1={x(t)} x2={x(t)} y1={225} y2={228} stroke="#999" strokeWidth={1.5} />
          <text x={x(t)} y={236} fontSize={TF} textAnchor="middle" fill={TICKC}>{t}</text>
        </g>
      ))}
      <text x={108} y={213} fontSize={8.5} fontWeight="bold" textAnchor="end" fill="#333">Revenue</text>
      <text x={108} y={222} fontSize={6.2} textAnchor="end" fill="#999">US$, in thousands</text>
    </Panel>
  );
}

function TreeTable() {
  const y = d3.scaleBand<number>().domain(treeNames.map((_, i) => i)).range([70.5, 375.5]);
  const indent = [62, 76, 100];
  return (
    <Panel ox={380} oy={412} card={[22, 30, 540, 395]}>
      <text x={57} y={62} fontSize={7.5} fontWeight="bold" fill="#333">Name</text>
      <text x={360} y={62} fontSize={7.5} fontWeight="bold" fill="#333">Type</text>
      <line x1={50} x2={455} y1={69.5} y2={69.5} stroke="#e2e2e2" strokeWidth={1.5} />
      {treeNames.map((n, i) => {
        const yy = y(i)!;
        const d = treeDepth[i];
        const isLink = d === 2 || i === 0;
        return (
          <g key={i}>
            {i % 2 === 0 ? <rect x={50} y={yy} width={405} height={y.bandwidth()} fill="#f5f5f5" /> : null}
            {d < 2 ? <rect x={indent[d] - 2.5} y={yy + y.bandwidth() / 2 - 1} width={5} height={5} fill="#6a9fd4" /> : null}
            <text x={d < 2 ? indent[d] + 6 : indent[2]} y={yy + y.bandwidth() / 2 + 2.8} fontSize={7.8} fill={isLink ? '#2a7ab8' : '#333'}>{n}</text>
            <text x={352} y={yy + y.bandwidth() / 2 + 2.8} fontSize={7.5} fill="#333">{treeTypes[i]}</text>
          </g>
        );
      })}
    </Panel>
  );
}

export default function App() {
  return (
    <svg width={570} height={560} viewBox="0 0 570 560"
      style={{ position: 'absolute', left: 0, top: 0, background: '#fff', fontFamily: FONT }}>
      <rect x={0} y={0} width={570} height={560} fill="#fff" />
      <SimpleLineChart />
      <ScatterChart />
      <StackedAreaChart />
      <DiscreteBarChart />
      <MultiBarChart />
      <HorizontalBarChart />
      <LinePlusBarChart />
      <CumulativeLineChart />
      <LineFocusChart />
      <PieChart />
      <BulletChart />
      <TreeTable />
    </svg>
  );
}
